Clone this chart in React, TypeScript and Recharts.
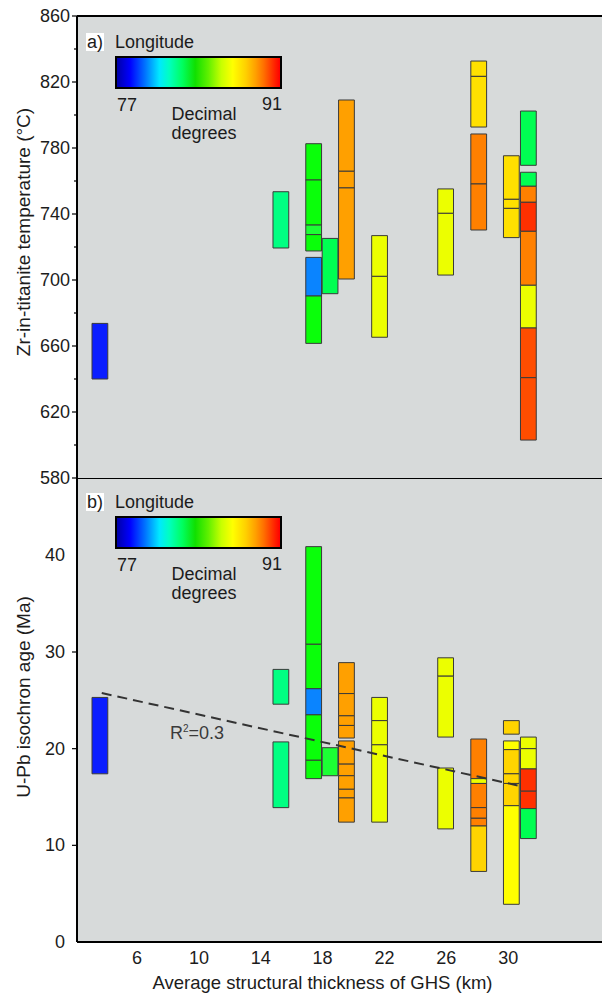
import React from 'react';
import {
  ComposedChart,
  XAxis,
  YAxis,
  CartesianGrid,
  ReferenceArea,
  ReferenceLine,
  Label,
} from 'recharts';

const FONT = '"Liberation Sans", Arial, sans-serif';
const INK = '#1c1c1c';
const PANEL = '#d7dada';

// x axis: average structural thickness of GHS (km)
const xTicks = [6, 10, 14, 18, 22, 26, 30];
const xDomain = [2.12, 36.06];

// y axes
const tempTicks = [580, 600, 620, 640, 660, 680, 700, 720, 740, 760, 780, 800, 820, 840, 860];
const ageTicks = [0, 10, 20, 30, 40];

// longitude classes -> colour
const palette: Record<string, string> = {
  blue: '#0a1eff',
  azure: '#0a84ff',
  green: '#0aff0a',
  green2: '#1cff34',
  spring: '#00ff82',
  mint: '#00ff52',
  lime: '#ecff00',
  yellow: '#ffff00',
  gold: '#ffe000',
  amber: '#ffd400',
  orange: '#ffa000',
  dorange: '#ff8000',
  red: '#ff3000',
  vermil: '#ff4d00',
};

// [thickness, low, high, longitude class]
type Seg = [number, number, number, string];

const tempSegs: Seg[] = [
  [3.6, 640, 673.7, 'blue'],
  [15.3, 719.4, 753.5, 'spring'],
  [17.42, 760.6, 782.6, 'green'],
  [17.42, 733.3, 760.6, 'green'],
  [17.42, 727.5, 733.3, 'green2'],
  [17.42, 717.6, 727.5, 'green'],
  [17.42, 690.3, 713.7, 'azure'],
  [17.42, 661.6, 690.3, 'green'],
  [18.48, 691.7, 725.2, 'mint'],
  [19.54, 765.9, 809.1, 'orange'],
  [19.54, 755.8, 765.9, 'orange'],
  [19.54, 700.6, 755.8, 'orange'],
  [21.68, 702.2, 726.9, 'lime'],
  [21.68, 665.3, 702.2, 'lime'],
  [25.95, 740.4, 755.2, 'lime'],
  [25.95, 703, 740.4, 'lime'],
  [28.09, 823.4, 832.7, 'gold'],
  [28.09, 792.7, 823.4, 'gold'],
  [28.09, 758.2, 788.5, 'dorange'],
  [28.09, 730.3, 758.2, 'dorange'],
  [30.2, 748.9, 775.3, 'gold'],
  [30.2, 743.4, 748.9, 'gold'],
  [30.2, 725.7, 743.4, 'gold'],
  [31.3, 769.5, 802.4, 'mint'],
  [31.3, 756.8, 765.3, 'mint'],
  [31.3, 747.1, 756.8, 'dorange'],
  [31.3, 729.5, 747.1, 'red'],
  [31.3, 696.8, 729.5, 'dorange'],
  [31.3, 670.9, 696.8, 'lime'],
  [31.3, 640.8, 670.9, 'vermil'],
  [31.3, 603, 640.8, 'vermil'],
];

const ageSegs: Seg[] = [
  [3.6, 17.4, 25.3, 'blue'],
  [15.3, 24.6, 28.2, 'spring'],
  [15.3, 13.9, 20.7, 'spring'],
  [17.42, 30.8, 40.9, 'green'],
  [17.42, 26.2, 30.8, 'green'],
  [17.42, 23.5, 26.2, 'azure'],
  [17.42, 18.8, 23.5, 'green'],
  [17.42, 16.9, 18.8, 'green'],
  [18.48, 17.2, 20.1, 'green2'],
  [19.54, 25.7, 28.9, 'orange'],
  [19.54, 23.4, 25.7, 'orange'],
  [19.54, 22.4, 23.4, 'orange'],
  [19.54, 21.1, 22.4, 'orange'],
  [19.54, 18.4, 20.8, 'orange'],
  [19.54, 17.2, 18.4, 'orange'],
  [19.54, 15.8, 17.2, 'orange'],
  [19.54, 14.9, 15.8, 'orange'],
  [19.54, 12.4, 14.9, 'orange'],
  [21.68, 22.9, 25.3, 'lime'],
  [21.68, 20.4, 22.9, 'lime'],
  [21.68, 12.4, 20.4, 'lime'],
  [25.95, 27.5, 29.4, 'lime'],
  [25.95, 21.2, 27.5, 'lime'],
  [25.95, 11.7, 18.0, 'lime'],
  [28.09, 16.9, 21.0, 'dorange'],
  [28.09, 16.4, 16.9, 'lime'],
  [28.09, 13.9, 16.4, 'dorange'],
  [28.09, 12.8, 13.9, 'dorange'],
  [28.09, 12.0, 12.8, 'dorange'],
  [28.09, 7.3, 12.0, 'amber'],
  [30.2, 21.5, 22.9, 'amber'],
  [30.2, 19.9, 20.8, 'yellow'],
  [30.2, 17.4, 19.9, 'amber'],
  [30.2, 16.4, 17.4, 'amber'],
  [30.2, 14.1, 16.4, 'amber'],
  [30.2, 3.9, 14.1, 'yellow'],
  [31.3, 20.0, 21.2, 'lime'],
  [31.3, 17.9, 20.0, 'lime'],
  [31.3, 15.6, 17.9, 'red'],
  [31.3, 13.8, 15.6, 'red'],
  [31.3, 10.7, 13.8, 'mint'],
];

// regression line, R2 = 0.3
const trend = [
  { x: 3.72, y: 25.76 },
  { x: 30.87, y: 16.1 },
];

const HALF = 0.51; // half column width in km

const txt = { fontFamily: FONT, fill: INK };

const tempTick = (p: any) => {
  const v = p.payload.value;
  const major = (v - 580) % 40 === 0;
  return (
    <g>
      <line x1={p.x - (major ? 5 : 3)} x2={p.x} y1={p.y} y2={p.y} stroke="#000" strokeWidth={1.2} />
      {major && (
        <text x={p.x - 7} y={p.y} textAnchor="end" dominantBaseline="central" fontSize={18} {...txt}>
          {v}
        </text>
      )}
    </g>
  );
};

const ageTick = (p: any) => {
  const v = p.payload.value;
  const showLine = v > 0 && v < 40;
  return (
    <g>
      {showLine && <line x1={p.x - 5} x2={p.x} y1={p.y} y2={p.y} stroke="#000" strokeWidth={1.2} />}
      <text x={p.x - 12} y={p.y} textAnchor="end" dominantBaseline="central" fontSize={18} {...txt}>
        {v}
      </text>
    </g>
  );
};

const topXTick = (p: any) => (
  <text x={p.x} y={p.y - 18} textAnchor="middle" dominantBaseline="central" fontSize={18} {...txt}>
    {p.payload.value}
  </text>
);

const bottomXTick = (p: any) => (
  <text x={p.x} y={p.y + 16} textAnchor="middle" dominantBaseline="central" fontSize={18} {...txt}>
    {p.payload.value}
  </text>
);

const yTitle = (text: string, dy: number) => (props: any) => {
  const vb = props.viewBox;
  const cx = vb.x + 23.5;
  const cy = vb.y + vb.height / 2 + dy;
  return (
    <text
      x={cx}
      y={cy}
      transform={`rotate(-90 ${cx} ${cy})`}
      textAnchor="middle"
      dominantBaseline="central"
      fontSize={19}
      {...txt}
    >
      {text}
    </text>
  );
};

const xTitle = (dx: number, dy: number) => (props: any) => {
  const vb = props.viewBox;
  return (
    <text
      x={vb.x + vb.width / 2 + dx}
      y={vb.y + dy}
      textAnchor="middle"
      dominantBaseline="central"
      fontSize={18.5}
      {...txt}
    >
      Average structural thickness of GHS (km)
    </text>
  );
};

const boxes = (segs: Seg[], prefix: string) =>
  segs.map(([x, lo, hi, c], i) => (
    <ReferenceArea
      key={prefix + i}
      x1={x - HALF}
      x2={x + HALF}
      y1={lo}
      y2={hi}
      fill={palette[c]}
      fillOpacity={1}
      stroke="#3a3a3a"
      strokeWidth={1}
    />
  ));

function ColourKey({ tag, top }: { tag: string; top: number }) {
  const t = (center: number) => center - 9;
  const base: React.CSSProperties = {
    position: 'absolute',
    fontSize: 18,
    lineHeight: '18px',
    color: INK,
    whiteSpace: 'nowrap',
  };
  return (
    <>
      <div style={{ ...base, left: 86, top: t(top - 14), background: '#fff', padding: '0 1px' }}>{tag}</div>
      <div style={{ ...base, left: 115, top: t(top - 14) }}>Longitude</div>
      <div
        style={{
          position: 'absolute',
          left: 115,
          top,
          width: 163,
          height: 29,
          border: '2px solid #000',
          background:
            'linear-gradient(to right, #0000a8 0%, #0000ff 8%, #0070ff 17%, #00e8ff 26%, #00ffc0 32%, #00ff60 40%, #10e000 48%, #60f000 56%, #c8ff00 64%, #ffff00 71%, #ffd000 79%, #ffa000 85%, #ff7000 90%, #ff2000 97%, #ff0000 100%)',
        }}
      />
      <div style={{ ...base, left: 117, top: t(top + 48.5) }}>77</div>
      <div style={{ ...base, left: 262, top: t(top + 48) }}>91</div>
      <div style={{ ...base, left: 144, width: 120, textAlign: 'center', top: t(top + 58) }}>Decimal</div>
      <div style={{ ...base, left: 144, width: 120, textAlign: 'center', top: t(top + 77) }}>degrees</div>
    </>
  );
}

export default function App() {
  return (
    <div
      style={{
        position: 'absolute',
        left: 0,
        top: 0,
        width: 602,
        height: 997,
        background: '#fff',
        fontFamily: FONT,
        overflow: 'hidden',
      }}
    >
      {/* b) U-Pb ages */}
      <div style={{ position: 'absolute', left: 0, top: 478, zIndex: 1 }}>
        <ComposedChart width={602} height={519} data={trend} margin={{ top: 0, right: 0, bottom: 0, left: 0 }}>
          <CartesianGrid fill={PANEL} stroke="none" horizontal={false} vertical={false} />
          <XAxis
            dataKey="x"
            type="number"
            domain={xDomain}
            ticks={xTicks}
            interval={0}
            height={55}
            allowDataOverflow
            axisLine={{ stroke: '#000', strokeWidth: 2 }}
            tickLine={false}
            tickSize={0}
            tickMargin={0}
            tick={bottomXTick}
          >
            <Label content={xTitle(-17, 40)} />
          </XAxis>
          <YAxis
            type="number"
            domain={[0, 48]}
            ticks={ageTicks}
            interval={0}
            width={77}
            allowDataOverflow
            axisLine={{ stroke: '#000', strokeWidth: 2 }}
            tickLine={false}
            tickSize={0}
            tickMargin={0}
            tick={ageTick}
          >
            <Label content={yTitle('U-Pb isochron age (Ma)', -13)} />
          </YAxis>
          {boxes(ageSegs, 'age')}
          <ReferenceLine
            segment={trend}
            stroke="#333"
            strokeWidth={2}
            strokeDasharray="10 6"
          />
          <ReferenceLine y={48} stroke="#000" strokeWidth={2} />
        </ComposedChart>
        <div
          style={{
            position: 'absolute',
            left: 170,
            top: 733 - 478 - 9,
            fontSize: 18,
            lineHeight: '18px',
            color: '#3a3a3a',
            whiteSpace: 'nowrap',
          }}
        >
          R<sup style={{ fontSize: 10, verticalAlign: 'top', lineHeight: '10px' }}>2</sup>=0.3
        </div>
      </div>

      {/* a) Zr-in-titanite temperatures */}
      <div style={{ position: 'absolute', left: 0, top: 0, zIndex: 2 }}>
        <ComposedChart width={602} height={492} data={trend} margin={{ top: 16, right: 0, bottom: 14, left: 0 }}>
          <CartesianGrid fill={PANEL} stroke="none" horizontal={false} vertical={false} />
          <XAxis
            dataKey="x"
            type="number"
            domain={xDomain}
            ticks={xTicks}
            interval={0}
            height={0}
            allowDataOverflow
            axisLine={{ stroke: '#000', strokeWidth: 2 }}
            tickLine={false}
            tickSize={0}
            tickMargin={0}
            tick={topXTick}
          >
            <Label content={xTitle(-2, -55)} />
          </XAxis>
          <YAxis
            type="number"
            domain={[580, 860]}
            ticks={tempTicks}
            interval={0}
            width={77}
            allowDataOverflow
            axisLine={{ stroke: '#000', strokeWidth: 2 }}
            tickLine={false}
            tickSize={0}
            tickMargin={0}
            tick={tempTick}
          >
            <Label content={yTitle('Zr-in-titanite temperature (°C)', -15)} />
          </YAxis>
          {boxes(tempSegs, 'temp')}
          <ReferenceLine y={860} stroke="#000" strokeWidth={2} />
        </ComposedChart>
      </div>

      <div style={{ position: 'absolute', left: 0, top: 0, zIndex: 3 }}>
        <ColourKey tag="a)" top={56} />
        <ColourKey tag="b)" top={516} />
      </div>
    </div>
  );
}
